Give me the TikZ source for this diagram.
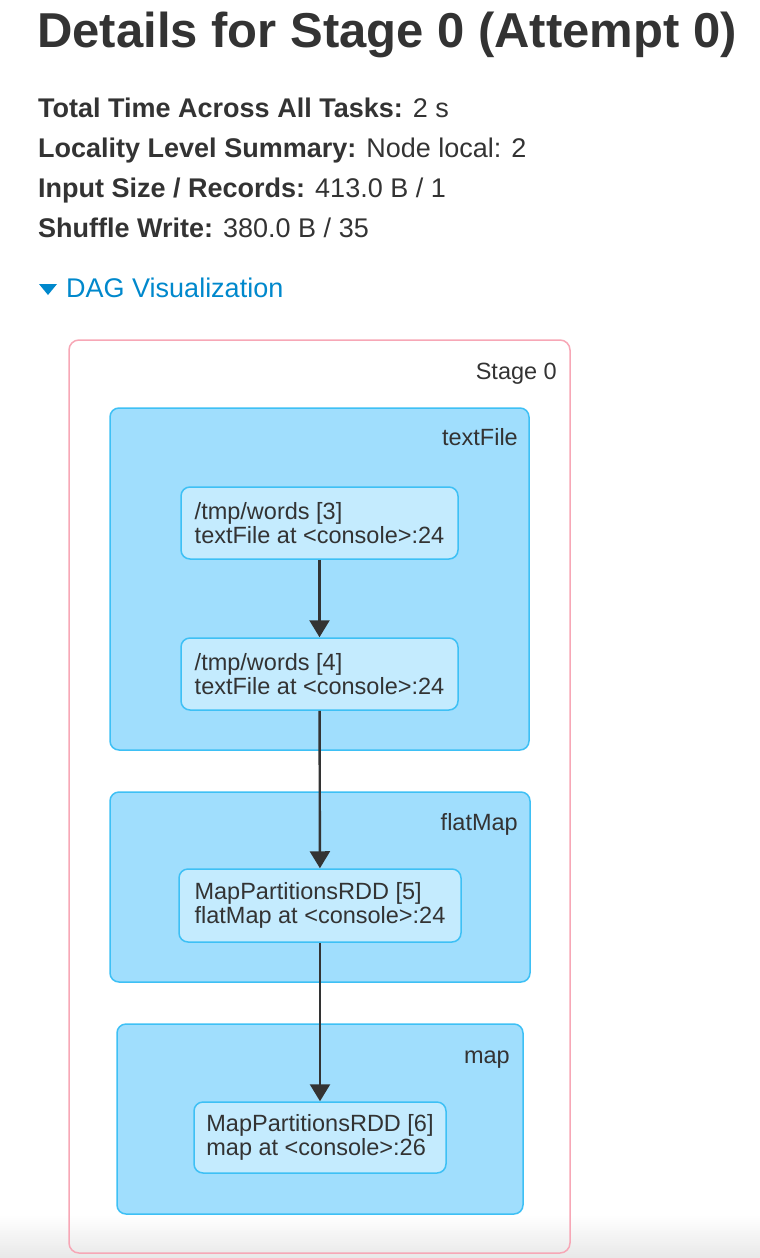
\documentclass[tikz,border=0pt]{standalone}
\usepackage{fontspec}
\setmainfont{Liberation Sans}
\usepackage{xcolor}
\definecolor{colorText}{HTML}{333333}
\definecolor{colorLink}{HTML}{0088CC}
\definecolor{colorStage}{HTML}{F7A7B6}
\definecolor{colorCluster}{HTML}{A0DEFD}
\definecolor{colorRdd}{HTML}{C4EBFE}
\definecolor{colorBorder}{HTML}{3EC0F5}
\definecolor{colorEdge}{HTML}{333333}
\usepackage{tikz}
\usetikzlibrary{arrows.meta, positioning}
\newcommand{\sizeTitle}{\fontsize{49}{58}\selectfont}
\newcommand{\sizeInfo}{\fontsize{27}{32}\selectfont}
\newcommand{\sizeDag}{\fontsize{23.5}{24}\selectfont}
\tikzset{
  cluster/.style={draw=colorBorder, fill=colorCluster, line width=1.5pt, rounded corners=9pt, inner sep=0pt},
  rdd/.style={draw=colorBorder, fill=colorRdd, line width=1.5pt, rounded corners=9pt, align=left, font=\sizeDag, inner xsep=12pt},
  clusterLabel/.style={anchor=base east, font=\sizeDag},
  info/.style={anchor=base west, font=\sizeInfo},
  flow/.style={-{Triangle[width=20pt, length=17pt]}, draw=colorEdge, line width=2.4pt}
}

\begin{document}
\begin{tikzpicture}[x=1pt, y=-1pt, every node/.style={text=colorText, inner sep=0pt}]
\useasboundingbox (0,0) rectangle (760,1258);
\shade[top color=white, bottom color=black!9] (0,1215) rectangle (760,1258);
% header
\node[anchor=base west, font=\sizeTitle\bfseries] (title) at (37,47) {Details for Stage 0 (Attempt 0)};
\node[info] (totalTime) at (38,117) {\textbf{Total Time Across All Tasks:} 2 s};
\node[info] (locality) at (38,157) {\textbf{Locality Level Summary:} Node local: 2};
\node[info] (inputSize) at (38,197) {\textbf{Input Size / Records:} 413.0 B / 1};
\node[info] (shuffleWrite) at (38,237) {\textbf{Shuffle Write:} 380.0 B / 35};
\fill[colorLink] (39,284) -- (57,284) -- (48,295) -- cycle;
\node[info, text=colorLink] (dagLink) at (66,297) {DAG Visualization};
% stage
\draw[colorStage, line width=1.5pt, rounded corners=10pt] (69,340) rectangle (570,1253);
\node[clusterLabel] (stageLabel) at (557,379) {Stage 0};
% clusters
\node[cluster, minimum width=419pt, minimum height=342pt] (textFile) at (319.5,579) {};
\node[clusterLabel] (textFileLabel) at (518,445) {textFile};
\node[cluster, minimum width=420pt, minimum height=190pt] (flatMap) at (320,887) {};
\node[clusterLabel] (flatMapLabel) at (518,830) {flatMap};
\node[cluster, minimum width=406pt, minimum height=190pt] (map) at (320,1119) {};
\node[clusterLabel] (mapLabel) at (510,1063) {map};
% rdds
\node[rdd, minimum width=277pt, minimum height=72pt] (rdd3) at (319.5,523) {/tmp/words [3]\\textFile at <console>:24};
\node[rdd, minimum width=277pt, minimum height=72pt] (rdd4) at (319.5,674) {/tmp/words [4]\\textFile at <console>:24};
\node[rdd, minimum width=282pt, minimum height=73pt] (rdd5) at (320,905.5) {MapPartitionsRDD [5]\\flatMap at <console>:24};
\node[rdd, minimum width=252pt, minimum height=71pt] (rdd6) at (320,1137.5) {MapPartitionsRDD [6]\\map at <console>:26};
% edges
\draw[flow] (rdd3) -- (rdd4);
\draw[flow] (rdd4) -- (rdd5);
\draw[flow] (rdd5) -- (rdd6);
\end{tikzpicture}
\end{document}
